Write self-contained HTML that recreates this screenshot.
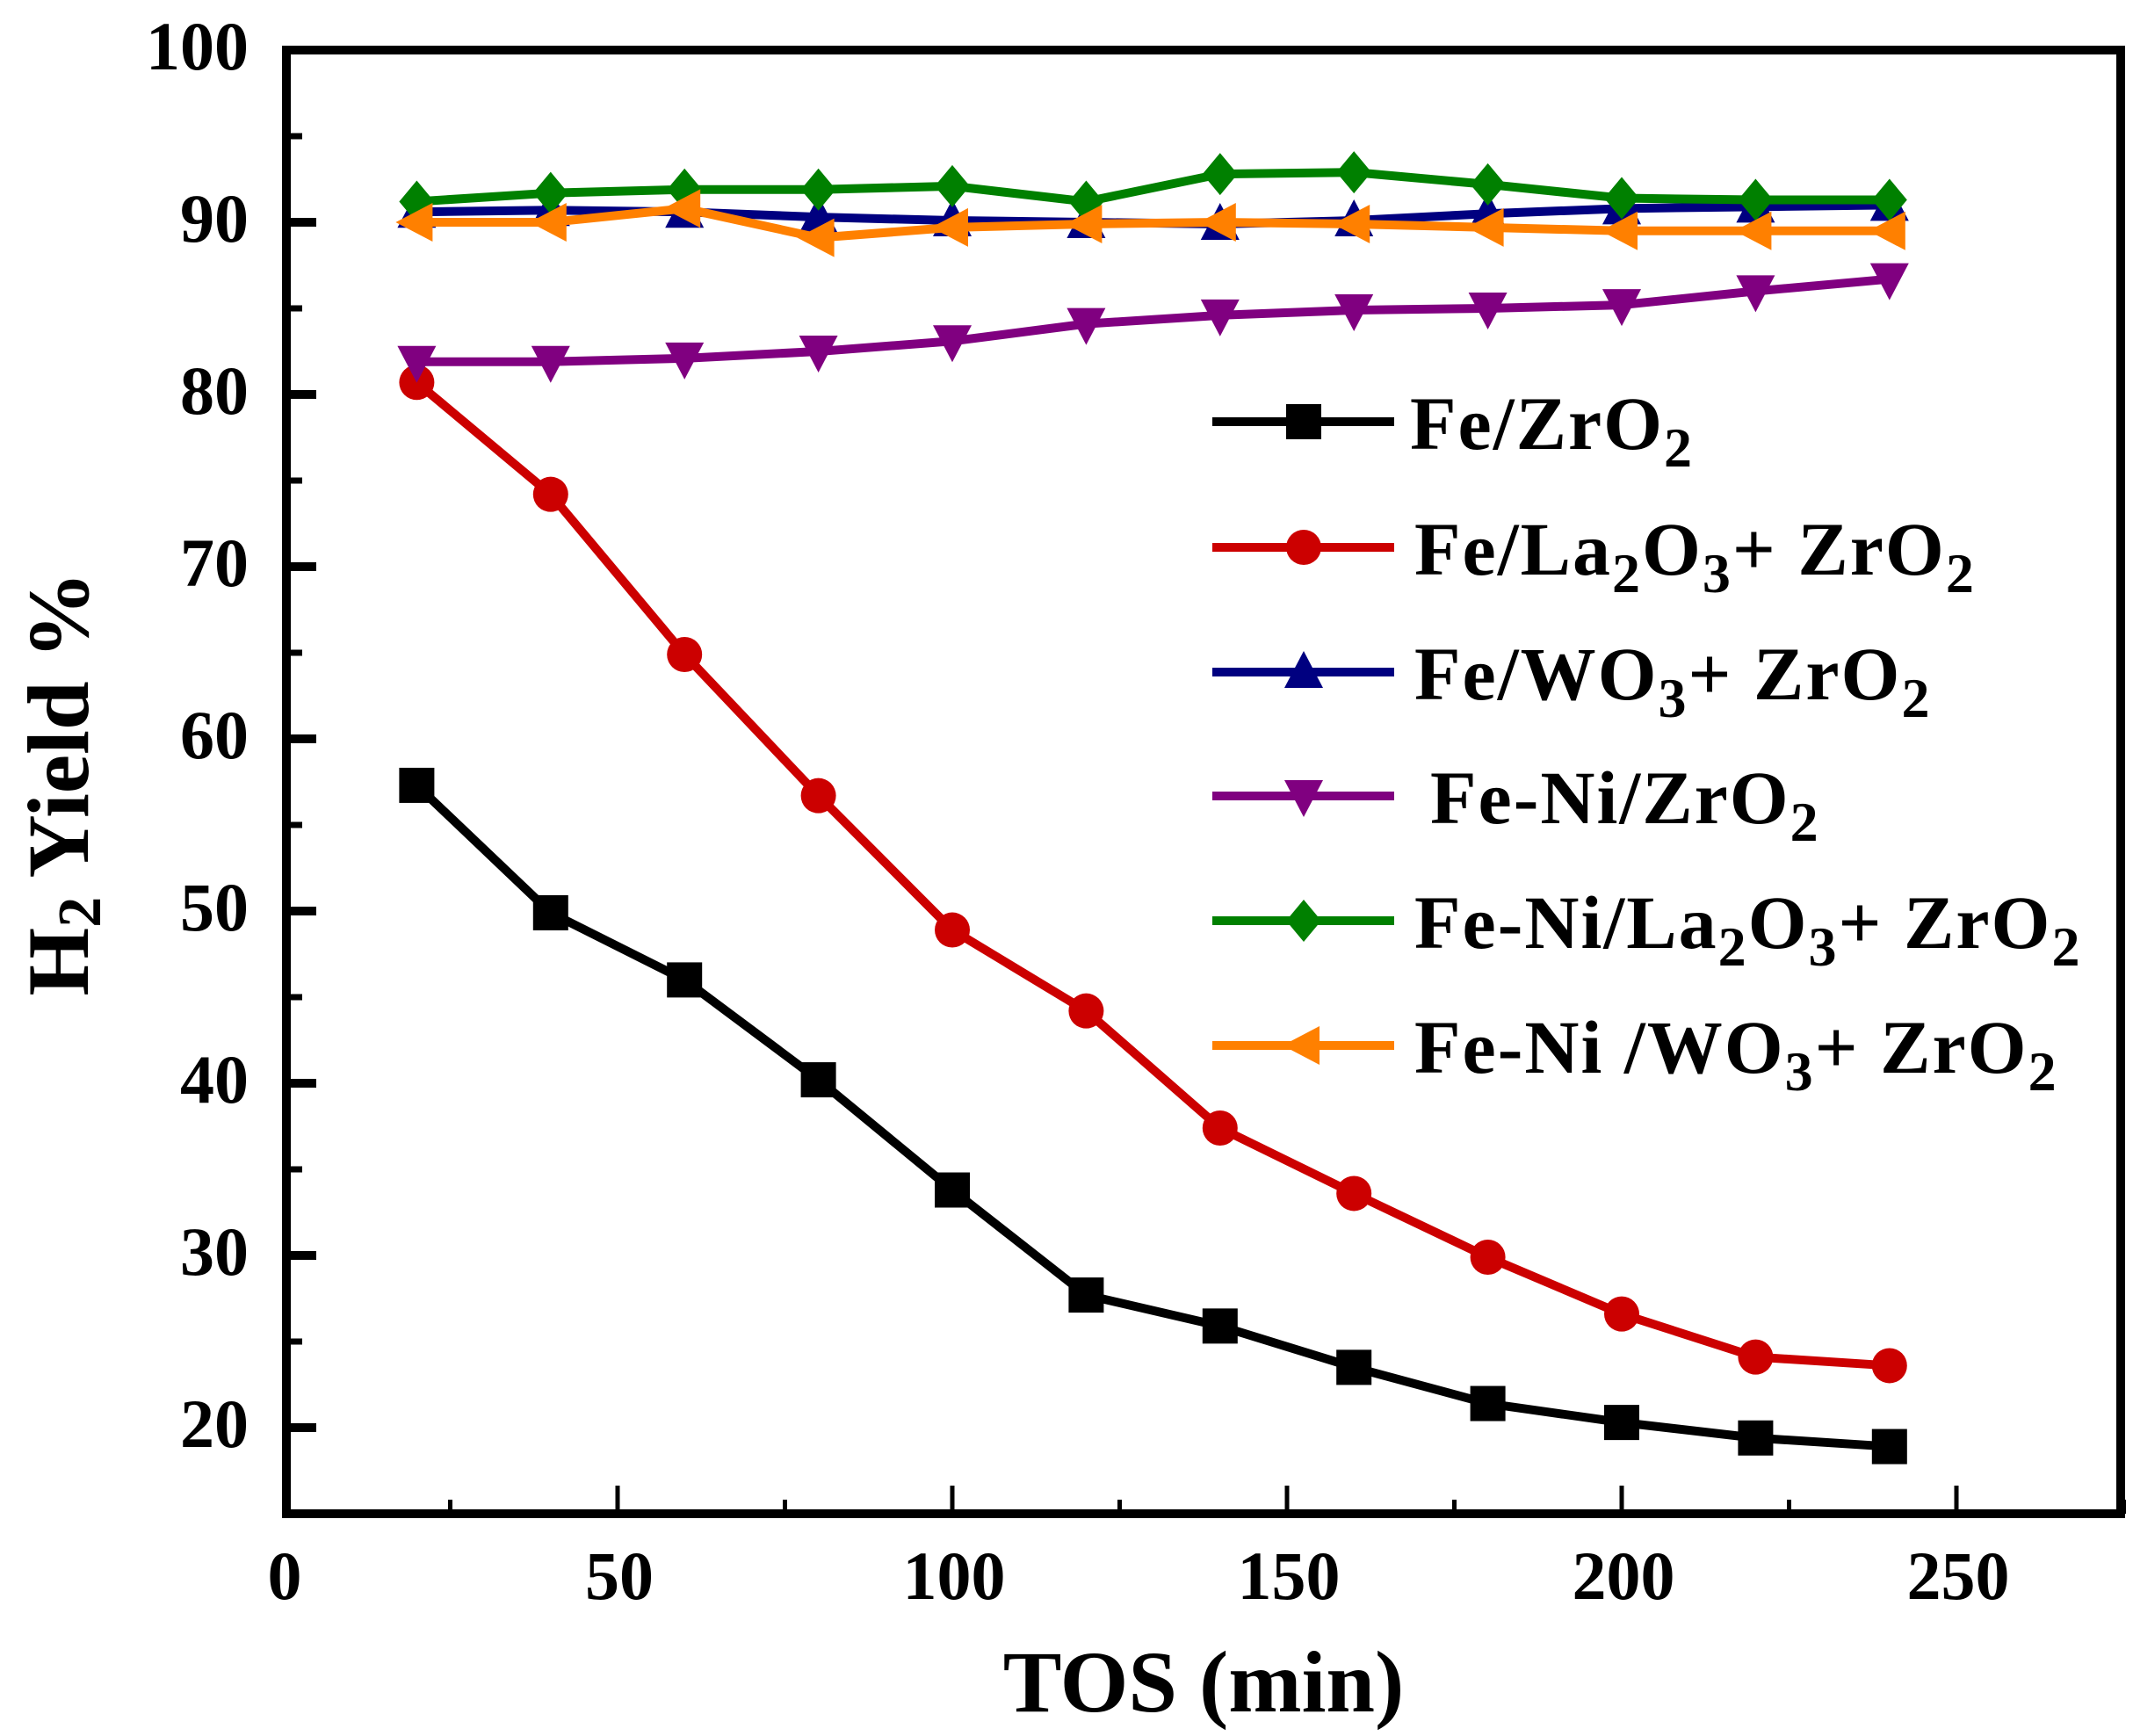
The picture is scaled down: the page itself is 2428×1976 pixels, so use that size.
<!DOCTYPE html>
<html><head><meta charset="utf-8"><style>
html,body{margin:0;padding:0;background:#fff;}
svg{display:block;}
text{font-family:"Liberation Serif",serif;font-weight:bold;fill:#000;}
</style></head><body>
<svg id="s" width="2428" height="1976" viewBox="0 0 2428 1976" xmlns="http://www.w3.org/2000/svg">
<rect width="2428" height="1976" fill="#fff"/>
<g id="ticks" stroke="#000"></g>
<g id="series"></g>
<rect x="326" y="57" width="2088" height="1666" fill="none" stroke="#000" stroke-width="10"/>
<g font-size="78" text-anchor="end">
<text x="283" y="79">100</text>
<text x="283" y="275">90</text>
<text x="283" y="471">80</text>
<text x="283" y="667">70</text>
<text x="283" y="863">60</text>
<text x="283" y="1059">50</text>
<text x="283" y="1255">40</text>
<text x="283" y="1451">30</text>
<text x="283" y="1647">20</text>
</g>
<g font-size="78" text-anchor="middle">
<text x="324" y="1820">0</text>
<text x="705" y="1820">50</text>
<text x="1086" y="1820">100</text>
<text x="1467" y="1820">150</text>
<text x="1848" y="1820">200</text>
<text x="2229" y="1820">250</text>
</g>
<text x="1370" y="1948" font-size="100" text-anchor="middle">TOS (min)</text>
<text transform="translate(100,892) rotate(-90)" font-size="100" text-anchor="middle">H<tspan font-size="70" dy="14">2</tspan><tspan dy="-14"> Yield %</tspan></text>
<g id="legend"></g>
<g font-size="86" letter-spacing="2">
<text x="1605" y="511">Fe/ZrO<tspan font-size="64" dy="20">2</tspan></text>
<text x="1610" y="654">Fe/La<tspan font-size="64" dy="20">2</tspan><tspan dy="-20">O</tspan><tspan font-size="64" dy="20">3</tspan><tspan dy="-20">+ ZrO</tspan><tspan font-size="64" dy="20">2</tspan></text>
<text x="1610" y="796">Fe/WO<tspan font-size="64" dy="20">3</tspan><tspan dy="-20">+ ZrO</tspan><tspan font-size="64" dy="20">2</tspan></text>
<text x="1628" y="937">Fe-Ni/ZrO<tspan font-size="64" dy="20">2</tspan></text>
<text x="1610" y="1079">Fe-Ni/La<tspan font-size="64" dy="20">2</tspan><tspan dy="-20">O</tspan><tspan font-size="64" dy="20">3</tspan><tspan dy="-20">+ ZrO</tspan><tspan font-size="64" dy="20">2</tspan></text>
<text x="1610" y="1221">Fe-Ni /WO<tspan font-size="64" dy="20">3</tspan><tspan dy="-20">+ ZrO</tspan><tspan font-size="64" dy="20">2</tspan></text>
</g>
</svg>
<script>
var NS="http://www.w3.org/2000/svg";
function X(v){return 322+7.62*v;}
function Y(v){return 1723-19.6*(v-15);}
function el(p,t,a){var e=document.createElementNS(NS,t);for(var k in a)e.setAttribute(k,a[k]);p.appendChild(e);return e;}
var tk=document.getElementById("ticks");
for(var v=0;v<=275;v+=25){var maj=v%50==0;if(v==0)continue;el(tk,"line",{x1:X(v),x2:X(v),y1:1723,y2:1723-(maj?32:16),"stroke-width":5});}
for(var v=20;v<=100;v+=5){var maj=v%10==0;el(tk,"line",{x1:326,x2:326+(maj?34:18),y1:Y(v),y2:Y(v),"stroke-width":maj?10:7});}
function marker(g,type,x,y,c){
 var s=20;
 if(type=="sq")el(g,"rect",{x:x-s,y:y-s,width:2*s,height:2*s,fill:c});
 else if(type=="ci")el(g,"circle",{cx:x,cy:y,r:s,fill:c});
 else if(type=="up")el(g,"polygon",{points:(x)+","+(y-s-4)+" "+(x-s-2)+","+(y+s-2)+" "+(x+s+2)+","+(y+s-2),fill:c});
 else if(type=="dn")el(g,"polygon",{points:(x)+","+(y+s+4)+" "+(x-s-2)+","+(y-s+2)+" "+(x+s+2)+","+(y-s+2),fill:c});
 else if(type=="di")el(g,"polygon",{points:x+","+(y-s-4)+" "+(x+s)+","+y+" "+x+","+(y+s+4)+" "+(x-s)+","+y,fill:c});
 else if(type=="lf")el(g,"polygon",{points:(x-s-4)+","+y+" "+(x+s-2)+","+(y-s-2)+" "+(x+s-2)+","+(y+s+2),fill:c});
}
var S=[
["#000","sq",[57.3,49.9,46,40.2,33.8,27.7,25.9,23.5,21.4,20.3,19.4,18.9]],
["#cc0000","ci",[80.7,74.2,64.9,56.7,48.9,44.2,37.4,33.6,29.9,26.6,24.1,23.6]],
["#000080","up",[90.6,90.7,90.6,90.3,90.1,90,89.9,90.1,90.5,90.8,90.9,91]],
["#800080","dn",[81.9,81.9,82.1,82.5,83.1,84.1,84.6,84.9,85,85.2,86,86.7]],
["#008000","di",[91.2,91.7,91.9,91.9,92.1,91.2,92.8,92.9,92.2,91.4,91.3,91.3]],
["#ff8000","lf",[90,90,90.8,89.1,89.7,89.9,90,89.9,89.7,89.5,89.5,89.5]]
];
var sg=document.getElementById("series"),lg=document.getElementById("legend");
var ly=[480,623,765,906,1048,1190];
S.forEach(function(s,i){
 var pts=s[2].map(function(v,j){return X(20+20*j)+","+Y(v);}).join(" ");
 var g=el(sg,"g",{});
 el(g,"polyline",{points:pts,fill:"none",stroke:s[0],"stroke-width":10,"stroke-linejoin":"round"});
 s[2].forEach(function(v,j){marker(g,s[1],X(20+20*j),Y(v),s[0]);});
 el(lg,"line",{x1:1380,x2:1587,y1:ly[i],y2:ly[i],stroke:s[0],"stroke-width":10});
 marker(lg,s[1],1484,ly[i],s[0]);
});
</script>
</body></html>
